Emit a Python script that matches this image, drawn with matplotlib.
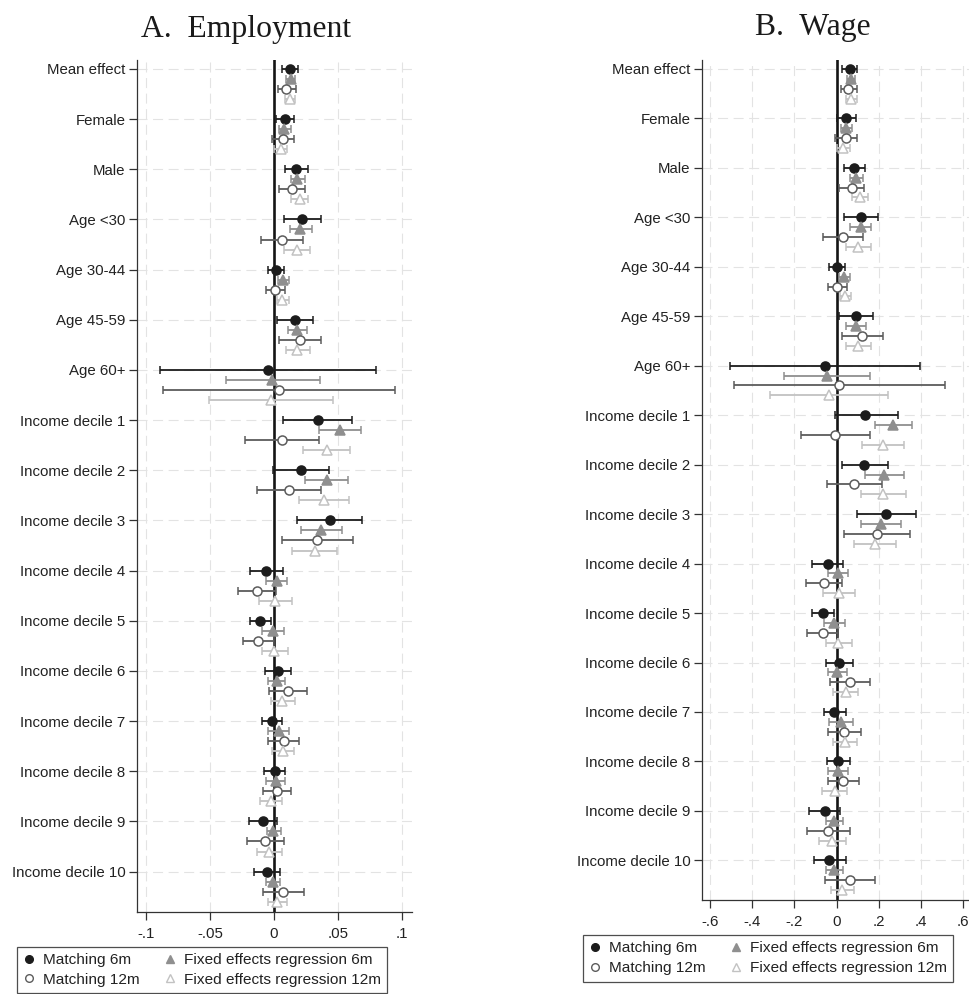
import numpy as np
import matplotlib
matplotlib.use("Agg")
import matplotlib.pyplot as plt
from matplotlib.lines import Line2D

plt.rcParams["font.family"] = ["Liberation Sans", "DejaVu Sans"]

groups = ["Mean effect", "Female", "Male", "Age <30", "Age 30-44", "Age 45-59",
          "Age 60+", "Income decile 1", "Income decile 2", "Income decile 3",
          "Income decile 4", "Income decile 5", "Income decile 6", "Income decile 7",
          "Income decile 8", "Income decile 9", "Income decile 10"]

# Employment: point estimates and 95% CI bounds
emp_m6 = [0.0125, 0.0089, 0.0174, 0.0221, 0.0018, 0.0161, -0.0047, 0.0344, 0.0211, 0.0435,
          -0.0060, -0.0107, 0.0034, -0.0018, 0.0005, -0.0083, -0.0055]
emp_m6_lo = [0.0065, 0.0016, 0.0083, 0.0081, -0.0044, 0.0023, -0.0890, 0.0073, -0.0005, 0.0180,
             -0.0185, -0.0188, -0.0073, -0.0094, -0.0076, -0.0193, -0.0154]
emp_m6_hi = [0.0188, 0.0159, 0.0266, 0.0367, 0.0081, 0.0302, 0.0800, 0.0612, 0.0427, 0.0690,
             0.0070, -0.0023, 0.0135, 0.0063, 0.0086, 0.0021, 0.0047]

emp_fe6 = [0.0130, 0.0081, 0.0182, 0.0206, 0.0073, 0.0180, -0.0013, 0.0513, 0.0411, 0.0370,
           0.0023, -0.0010, 0.0021, 0.0036, 0.0016, -0.0005, -0.0010]
emp_fe6_lo = [0.0096, 0.0036, 0.0130, 0.0122, 0.0034, 0.0107, -0.0375, 0.0352, 0.0240, 0.0211,
              -0.0063, -0.0094, -0.0049, -0.0044, -0.0060, -0.0057, -0.0065]
emp_fe6_hi = [0.0167, 0.0133, 0.0240, 0.0297, 0.0120, 0.0260, 0.0357, 0.0680, 0.0581, 0.0534,
              0.0104, 0.0076, 0.0089, 0.0117, 0.0089, 0.0052, 0.0047]

emp_m12 = [0.0096, 0.0068, 0.0138, 0.0060, 0.0005, 0.0206, 0.0042, 0.0060, 0.0120, 0.0339,
           -0.0135, -0.0125, 0.0109, 0.0076, 0.0026, -0.0068, 0.0073]
emp_m12_lo = [0.0034, -0.0018, 0.0036, -0.0099, -0.0065, 0.0042, -0.0867, -0.0229, -0.0130, 0.0060,
              -0.0281, -0.0242, -0.0039, -0.0044, -0.0086, -0.0211, -0.0086]
emp_m12_hi = [0.0169, 0.0154, 0.0240, 0.0224, 0.0083, 0.0370, 0.0950, 0.0352, 0.0370, 0.0620,
              0.0013, 0.0003, 0.0255, 0.0193, 0.0135, 0.0078, 0.0234]

emp_fe12 = [0.0122, 0.0052, 0.0200, 0.0177, 0.0063, 0.0182, -0.0026, 0.0411, 0.0393, 0.0318,
            0.0010, 0.0003, 0.0065, 0.0068, -0.0026, -0.0042, 0.0026]
emp_fe12_lo = [0.0086, 0.0000, 0.0135, 0.0076, 0.0023, 0.0094, -0.0510, 0.0229, 0.0198, 0.0141,
               -0.0120, -0.0094, -0.0026, -0.0013, -0.0112, -0.0133, -0.0044]
emp_fe12_hi = [0.0164, 0.0104, 0.0266, 0.0281, 0.0115, 0.0279, 0.0458, 0.0591, 0.0589, 0.0495,
               0.0143, 0.0109, 0.0164, 0.0156, 0.0065, 0.0060, 0.0099]

# Wage: point estimates and 95% CI bounds
wage_m6 = [0.063, 0.047, 0.084, 0.115, 0.002, 0.090, -0.055, 0.137, 0.131, 0.235,
           -0.043, -0.063, 0.011, -0.013, 0.008, -0.055, -0.035]
wage_m6_lo = [0.028, 0.003, 0.033, 0.033, -0.035, 0.011, -0.504, -0.009, 0.024, 0.096,
              -0.118, -0.115, -0.052, -0.062, -0.046, -0.133, -0.106]
wage_m6_hi = [0.096, 0.093, 0.137, 0.197, 0.039, 0.171, 0.397, 0.292, 0.245, 0.376,
              0.032, -0.013, 0.079, 0.043, 0.065, 0.016, 0.043]

wage_fe6 = [0.068, 0.046, 0.090, 0.114, 0.036, 0.093, -0.044, 0.269, 0.227, 0.210,
            0.005, -0.011, 0.002, 0.021, 0.005, -0.013, -0.011]
wage_fe6_lo = [0.049, 0.019, 0.062, 0.066, 0.011, 0.046, -0.248, 0.183, 0.137, 0.118,
               -0.043, -0.062, -0.041, -0.035, -0.041, -0.052, -0.052]
wage_fe6_hi = [0.088, 0.074, 0.125, 0.164, 0.065, 0.141, 0.161, 0.357, 0.318, 0.305,
               0.054, 0.039, 0.051, 0.076, 0.055, 0.030, 0.030]

wage_m12 = [0.055, 0.044, 0.071, 0.030, 0.003, 0.122, 0.013, -0.006, 0.085, 0.193,
            -0.060, -0.066, 0.063, 0.036, 0.030, -0.039, 0.063]
wage_m12_lo = [0.019, -0.006, 0.011, -0.066, -0.041, 0.024, -0.488, -0.169, -0.047, 0.036,
               -0.147, -0.142, -0.032, -0.041, -0.041, -0.142, -0.057]
wage_m12_hi = [0.095, 0.098, 0.131, 0.126, 0.049, 0.220, 0.515, 0.161, 0.218, 0.349,
               0.028, 0.008, 0.158, 0.114, 0.106, 0.062, 0.182]

wage_fe12 = [0.070, 0.032, 0.109, 0.103, 0.039, 0.103, -0.038, 0.220, 0.220, 0.182,
             0.011, 0.008, 0.043, 0.039, -0.009, -0.022, 0.025]
wage_fe12_lo = [0.046, 0.000, 0.073, 0.046, 0.014, 0.046, -0.318, 0.120, 0.114, 0.081,
                -0.066, -0.052, -0.016, -0.016, -0.071, -0.085, -0.028]
wage_fe12_hi = [0.095, 0.065, 0.149, 0.164, 0.070, 0.163, 0.242, 0.321, 0.330, 0.283,
                0.088, 0.071, 0.103, 0.098, 0.051, 0.044, 0.081]

emp_ticks = [-0.1, -0.05, 0, 0.05, 0.1]
emp_ticklabels = ["-.1", "-.05", "0", ".05", ".1"]
wage_ticks = [-0.6, -0.4, -0.2, 0, 0.2, 0.4, 0.6]
wage_ticklabels = ["-.6", "-.4", "-.2", "0", ".2", ".4", ".6"]

series_labels = ["Matching 6m", "Fixed effects regression 6m",
                 "Matching 12m", "Fixed effects regression 12m"]
# (marker, colour, filled)
styles = [("o", "#1c1c1c", True), ("^", "#8f8f8f", True),
          ("o", "#5c5c5c", False), ("^", "#c2c2c2", False)]

grid_kw = dict(color="#e3e3e3", lw=0.8, linestyle=(0, (9, 5)), zorder=0)


def forest(ax, series, ticks, ticklabels, xlim):
    rows = np.arange(len(groups))
    for i, (est, lo, hi) in enumerate(series):
        est, lo, hi = map(np.asarray, (est, lo, hi))
        mk, col, filled = styles[i]
        ax.errorbar(est, rows + 0.2 * i, xerr=[est - lo, hi - est],
                    fmt=mk, color=col, ecolor=col, elinewidth=1.3,
                    capsize=3, capthick=1.3, ms=6.5 if mk == "o" else 7,
                    mfc=col if filled else "white", mec=col, mew=1.1, zorder=3)
    ax.axvline(0, color="#151515", lw=1.9, zorder=2)
    for t in ticks:
        ax.axvline(t, **grid_kw)
    for r in rows:
        ax.axhline(r, **grid_kw)
    ax.set_xlim(*xlim)
    ax.set_ylim(16.8, -0.18)
    ax.set_yticks(rows)
    ax.set_yticklabels(groups, fontsize=10.8, color="#222222")
    ax.set_xticks(ticks)
    ax.set_xticklabels(ticklabels, fontsize=10.8, color="#222222")
    ax.tick_params(length=6, width=0.9, color="#333333", pad=2)
    ax.tick_params(axis="x", pad=5)
    for side in ["top", "right"]:
        ax.spines[side].set_visible(False)
    for side in ["left", "bottom"]:
        ax.spines[side].set_color("#333333")
        ax.spines[side].set_linewidth(0.9)


fig = plt.figure(figsize=(9.69, 9.94), dpi=100)
ax1 = fig.add_axes([0.1411, 0.0828, 0.2838, 0.8569])
ax2 = fig.add_axes([0.7241, 0.0946, 0.2820, 0.8451])

forest(ax1, [(emp_m6, emp_m6_lo, emp_m6_hi), (emp_fe6, emp_fe6_lo, emp_fe6_hi),
             (emp_m12, emp_m12_lo, emp_m12_hi), (emp_fe12, emp_fe12_lo, emp_fe12_hi)],
       emp_ticks, emp_ticklabels, (-0.1075, 0.1078))
forest(ax2, [(wage_m6, wage_m6_lo, wage_m6_hi), (wage_fe6, wage_fe6_lo, wage_fe6_hi),
             (wage_m12, wage_m12_lo, wage_m12_hi), (wage_fe12, wage_fe12_lo, wage_fe12_hi)],
       wage_ticks, wage_ticklabels, (-0.641, 0.657))

title_kw = dict(family=["Liberation Serif", "DejaVu Serif"], fontsize=22.8,
                color="#1a1a1a", ha="center", va="baseline")
fig.text(246 / 969, 1 - 36.5 / 994, "A.  Employment", **title_kw)
fig.text(813 / 969, 1 - 35 / 994, "B.  Wage", **title_kw)

handles = []
for mk, col, filled in styles:
    handles.append(Line2D([], [], linestyle="none", marker=mk, color=col,
                          mfc=col if filled else "white", mec=col, ms=5.5, mew=1))
# column order: Matching 6m / Matching 12m, then the two FE series
order = [0, 2, 1, 3]
leg_kw = dict(ncol=2, fontsize=11.1, frameon=True, fancybox=False, loc="upper left",
              handlelength=0.8, handletextpad=0.5, columnspacing=1.55,
              labelspacing=0.36, borderpad=0.42, borderaxespad=0)
for x0, y0 in [(16.7, 946.7), (582.7, 935)]:
    leg = fig.legend([handles[k] for k in order], [series_labels[k] for k in order],
                     bbox_to_anchor=(x0 / 969, 1 - y0 / 994), **leg_kw)
    leg.get_frame().set_edgecolor("#222222")
    leg.get_frame().set_linewidth(0.9)
    for t in leg.get_texts():
        t.set_color("#222222")

fig.savefig("out.png", dpi=100)
